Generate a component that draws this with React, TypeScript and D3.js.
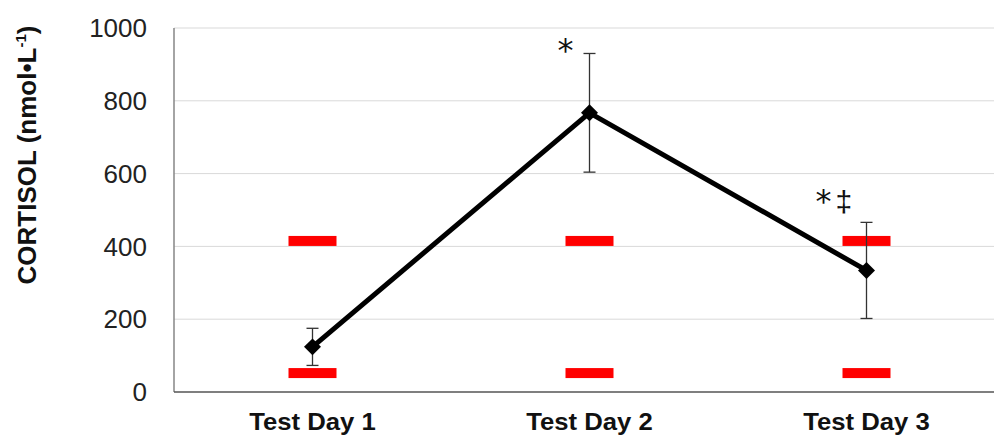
import React from "react";
import * as d3 from "d3";

const categories = ["Test Day 1", "Test Day 2", "Test Day 3"];
const means = [124, 767, 334];
const errors = [51, 163, 132];
const refHigh = [415, 415, 415];
const refLow = [52, 52, 52];
const yTicks = [0, 200, 400, 600, 800, 1000];
const stars = ["", "*", "*"];
const daggers = ["", "", "\u2021"];

const W = 994;
const H = 435;
const left = 174;
const top = 28;
const bottom = 392;

export default function App() {
  const x = d3.scaleBand().domain(categories).range([left, left + 831]);
  const y = d3.scaleLinear().domain([0, 1000]).range([bottom, top]);
  const cx = (c: string) => (x(c) as number) + x.bandwidth() / 2;

  const line = d3
    .line<number>()
    .x((_, i) => cx(categories[i]))
    .y((d) => y(d));

  // square turned 45 degrees, like the Excel diamond marker
  const diamond = d3.symbol().type(d3.symbolSquare).size(144)();
  const markDx = [0, -32, -51];
  const markDy = [0, 8, -10];

  return (
    <svg width={W} height={H} style={{ position: "absolute", left: 0, top: 0, background: "#fff" }}
      fontFamily="'Liberation Sans', Arial, sans-serif">
      {yTicks.filter((t) => t > 0).map((t) => (
        <line key={t} x1={left} x2={W} y1={y(t)} y2={y(t)} stroke="#d9d9d9" strokeWidth={1} />
      ))}
      <line x1={left} x2={left} y1={top} y2={bottom} stroke="#868686" strokeWidth={1.5} />
      <line x1={left} x2={W} y1={bottom} y2={bottom} stroke="#555" strokeWidth={1.5} />
      {yTicks.map((t) => (
        <text key={t} x={147} y={y(t)} dy="0.35em" textAnchor="end" fontSize={26} fill="#222">
          {t}
        </text>
      ))}
      <text transform={`translate(36,155) rotate(-90)`} textAnchor="middle"
        fontSize={26} fontWeight="bold" fill="#111">
        CORTISOL (nmol•L
        <tspan dy={-10} fontSize={15}>-1</tspan>
        <tspan dy={10}>)</tspan>
      </text>
      {categories.map((c) => (
        <text key={c} transform={`translate(${cx(c)},430) scale(1.07,1)`} textAnchor="middle"
          fontSize={24} fontWeight="bold" fill="#111">
          {c}
        </text>
      ))}
      {categories.map((c, i) => (
        <g key={c}>
          <rect x={cx(c) - 24} y={y(refHigh[i]) - 5} width={48} height={10} fill="#ff0000" />
          <rect x={cx(c) - 24} y={y(refLow[i]) - 5} width={48} height={10} fill="#ff0000" />
        </g>
      ))}
      {categories.map((c, i) => (
        <g key={c} stroke="#333" strokeWidth={1.3}>
          <line x1={cx(c)} x2={cx(c)} y1={y(means[i] + errors[i])} y2={y(means[i] - errors[i])} />
          <line x1={cx(c) - 6} x2={cx(c) + 6} y1={y(means[i] + errors[i])} y2={y(means[i] + errors[i])} />
          <line x1={cx(c) - 6} x2={cx(c) + 6} y1={y(means[i] - errors[i])} y2={y(means[i] - errors[i])} />
        </g>
      ))}
      <path d={line(means) || ""} fill="none" stroke="#000" strokeWidth={5} strokeLinejoin="round" />
      {categories.map((c, i) => (
        <path key={c} d={diamond || ""} transform={`translate(${cx(c)},${y(means[i])}) rotate(45)`} fill="#000" />
      ))}
      {categories.map((c, i) => (
        <text key={c} x={cx(c) + markDx[i]} y={y(means[i] + errors[i]) + markDy[i]} fill="#111">
          <tspan fontFamily="'DejaVu Sans', sans-serif" fontSize={32}>{stars[i]}</tspan>
          <tspan dx={4} fontSize={30}>{daggers[i]}</tspan>
        </text>
      ))}
    </svg>
  );
}
